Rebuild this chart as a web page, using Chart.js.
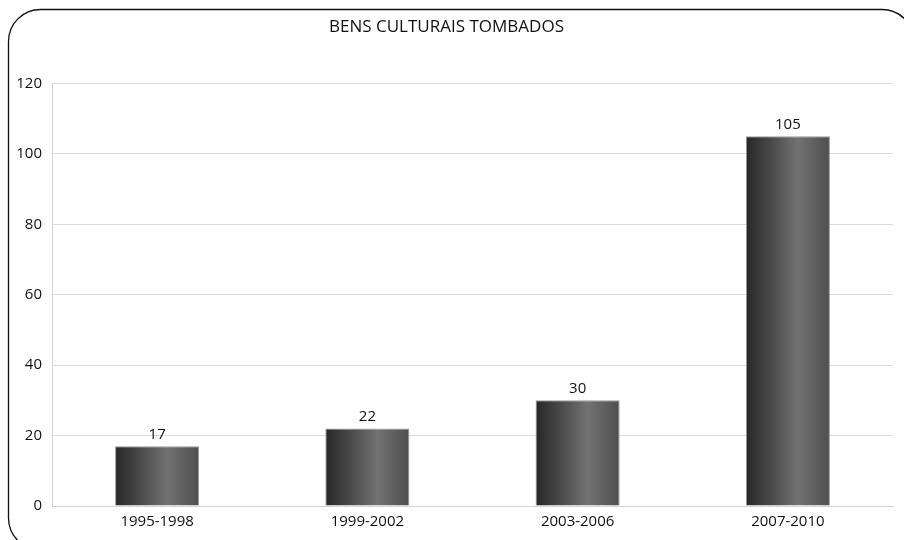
<!DOCTYPE html>
<html>
<head>
<meta charset="utf-8">
<script src="https://cdn.jsdelivr.net/npm/chart.js@4"></script>
<style>
  html, body { margin: 0; padding: 0; background: #fff; }
  #wrap { width: 904px; height: 540px; }
</style>
</head>
<body>
<div id="wrap"><canvas id="c" width="904" height="540"></canvas></div>
<script>
const categories = ['1995-1998', '1999-2002', '2003-2006', '2007-2010'];
const bensTombados = [17, 22, 30, 105];
const yTicks = [0, 20, 40, 60, 80, 100, 120];
const chartTitle = 'BENS CULTURAIS TOMBADOS';

const FONT = "'Open Sans', 'DejaVu Sans', sans-serif";
const BAR_FRACTION = 0.4;

// Rounded frame around the whole chart
const framePlugin = {
  id: 'frame',
  beforeDraw(chart) {
    const ctx = chart.ctx;
    const x0 = 8.5, y0 = 9.5, x1 = 914, y1 = 550, r = 32;
    ctx.save();
    ctx.fillStyle = '#fff';
    ctx.fillRect(0, 0, chart.width, chart.height);
    ctx.beginPath();
    ctx.moveTo(x0 + r, y0);
    ctx.lineTo(x1 - r, y0);
    ctx.arcTo(x1, y0, x1, y0 + r, r);
    ctx.lineTo(x1, y1 - r);
    ctx.arcTo(x1, y1, x1 - r, y1, r);
    ctx.lineTo(x0 + r, y1);
    ctx.arcTo(x0, y1, x0, y1 - r, r);
    ctx.lineTo(x0, y0 + r);
    ctx.arcTo(x0, y0, x0 + r, y0, r);
    ctx.closePath();
    ctx.lineWidth = 1.3;
    ctx.strokeStyle = '#111';
    ctx.stroke();
    ctx.restore();
  }
};

// Value written above each bar
const valueLabels = {
  id: 'valueLabels',
  afterDatasetsDraw(chart) {
    const ctx = chart.ctx;
    const meta = chart.getDatasetMeta(0);
    ctx.save();
    ctx.font = '15px ' + FONT;
    ctx.fillStyle = '#111';
    ctx.textAlign = 'center';
    ctx.textBaseline = 'bottom';
    meta.data.forEach((el, i) => {
      ctx.fillText(String(bensTombados[i]), el.x, el.y - 4);
    });
    ctx.restore();
  }
};

function barGradient(context) {
  const chart = context.chart;
  const xs = chart.scales.x;
  if (!xs || !chart.chartArea) return '#555';
  const cx = xs.getPixelForValue(context.dataIndex);
  const w = (chart.chartArea.right - chart.chartArea.left) / categories.length * BAR_FRACTION;
  const g = chart.ctx.createLinearGradient(cx - w / 2, 0, cx + w / 2, 0);
  g.addColorStop(0, '#262626');
  g.addColorStop(0.3, '#4a4a4a');
  g.addColorStop(0.62, '#727272');
  g.addColorStop(0.85, '#5c5c5c');
  g.addColorStop(1, '#4e4e4e');
  return g;
}

new Chart(document.getElementById('c'), {
  type: 'bar',
  data: {
    labels: categories,
    datasets: [{
      data: bensTombados,
      backgroundColor: barGradient,
      borderColor: '#9a9a9a',
      borderWidth: 1,
      borderSkipped: 'bottom',
      barPercentage: 0.4,
      categoryPercentage: 1.0
    }]
  },
  options: {
    responsive: false,
    animation: false,
    layout: { padding: { left: 0, right: 11, top: 17, bottom: 2 } },
    plugins: {
      legend: { display: false },
      tooltip: { enabled: false },
      title: {
        display: true,
        text: chartTitle,
        color: '#111',
        font: { family: FONT, size: 17, weight: 'normal' },
        padding: { top: 0, bottom: 46 }
      }
    },
    scales: {
      x: {
        grid: { display: false, drawTicks: false },
        border: { display: true, color: '#d4d4d4' },
        ticks: { color: '#111', font: { family: FONT, size: 15 }, padding: 7 }
      },
      y: {
        min: 0,
        max: 120,
        afterBuildTicks(scale) { scale.ticks = yTicks.map(v => ({ value: v })); },
        afterFit(scale) { scale.width = 52; },
        grid: { color: '#dcdcdc', drawTicks: false },
        border: { display: true, color: '#d4d4d4' },
        ticks: { color: '#111', font: { family: FONT, size: 15 }, padding: 10 }
      }
    }
  },
  plugins: [framePlugin, valueLabels]
});
</script>
</body>
</html>
